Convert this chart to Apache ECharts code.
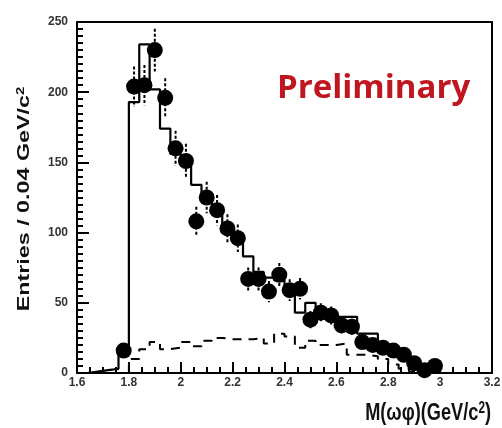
<!DOCTYPE html>
<html>
<head>
<meta charset="utf-8">
<script src="https://cdn.jsdelivr.net/npm/echarts@6/dist/echarts.min.js"></script>
<style>
  html, body { margin: 0; padding: 0; background: #fff; }
  #chart { width: 502px; height: 428px; }
</style>
</head>
<body>
<div id="chart"></div>
<script>
// Measured events: bin centres (GeV/c^2), entries per 0.04 GeV/c^2 and their errors
const dataMass = [1.78, 1.82, 1.86, 1.90, 1.94, 1.98, 2.02, 2.06, 2.10, 2.14, 2.18, 2.22,
  2.26, 2.30, 2.34, 2.38, 2.42, 2.46, 2.50, 2.54, 2.58, 2.62, 2.66, 2.70, 2.74, 2.78,
  2.82, 2.86, 2.90, 2.94, 2.98];
const dataCounts = [16, 204, 205, 230, 196, 160, 151, 108, 125, 116, 103, 96,
  67, 67, 58, 70, 59, 60, 38, 43, 41, 34, 33, 22, 20, 18,
  16, 13, 7, 2, 5];
const dataErrors = [4.0, 14.3, 14.3, 15.2, 14.0, 12.6, 12.3, 10.4, 11.2, 10.8, 10.1, 9.8,
  8.2, 8.2, 7.6, 8.4, 7.7, 7.7, 6.2, 6.6, 6.4, 5.8, 5.7, 4.7, 4.5, 4.2,
  4.0, 3.6, 2.6, 1.4, 2.2];

// Total fit histogram: lower bin edges and contents
const fitEdges = [1.64, 1.68, 1.72, 1.76, 1.80, 1.84, 1.88, 1.92, 1.96, 2.00, 2.04, 2.08,
  2.12, 2.16, 2.20, 2.24, 2.28, 2.32, 2.36, 2.40, 2.44, 2.48, 2.52, 2.56, 2.60, 2.64,
  2.68, 2.72, 2.76, 2.80, 2.84, 2.88, 2.92, 2.96, 3.00, 3.04];
const fitValues = [1, 2, 3, 14, 193, 234, 202, 174, 156, 150, 134, 124,
  116, 106, 95, 83, 72, 68, 66, 62, 43, 50, 45, 42, 40, 40,
  28, 28, 21, 18, 14, 9, 4, 2, 0];

// Background histogram: lower bin edges and contents
const bkgEdges = [1.80, 1.84, 1.88, 1.92, 1.96, 2.00, 2.04, 2.08, 2.12, 2.16, 2.20, 2.24,
  2.28, 2.32, 2.36, 2.40, 2.44, 2.48, 2.52, 2.56, 2.60, 2.64, 2.68, 2.72, 2.76, 2.80,
  2.84, 2.88, 2.92];
const bkgValues = [10, 17, 22, 17, 18, 22, 19, 23, 25, 24, 24, 24,
  25, 21, 28, 26, 18, 23, 20, 20, 21, 13, 13, 12, 10, 6,
  3, 1, 0];

// Axis ranges with major and minor tick steps
const xTicks = { min: 1.6, max: 3.2, step: 0.2, minorStep: 0.05 };
const yTicks = { min: 0, max: 250, step: 50, minorStep: 5 };

// Build step-line points: start at zero on the first edge, one point per bin edge
function stepPoints(edges, values) {
  const pts = [[edges[0], 0]];
  for (let i = 0; i < edges.length; i++) {
    pts.push([edges[i], values[Math.min(i, values.length - 1)]]);
  }
  return pts;
}

const points = dataMass.map((m, i) => [m, dataCounts[i]]);
const errorBars = dataMass.map((m, i) => [m, dataCounts[i], dataErrors[i]]);

const labelFont = { fontFamily: 'Liberation Sans', fontWeight: 'bold', fontSize: 12, color: '#333' };
const titleFont = { fontFamily: 'Liberation Sans', fontWeight: 'bold', fontSize: 17, fill: '#111' };
const supFont = { fontFamily: 'Liberation Sans', fontWeight: 'bold', fontSize: 11, fill: '#111', verticalAlign: 'top' };

const frameLine = { show: true, onZero: false, lineStyle: { color: '#000', width: 2 } };
const hidden = { show: false };

// Frame sides without ticks or labels (top and right)
function frameAxis(position, t) {
  return {
    type: 'value', position: position, min: t.min, max: t.max,
    axisLine: frameLine, axisTick: hidden, axisLabel: hidden, splitLine: hidden
  };
}

// Tick-only axis shifted into the plot by its tick length, so its ticks point inward
function tickAxis(position, t, interval, len) {
  return {
    type: 'value', position: position, offset: -len,
    min: t.min, max: t.max, interval: interval,
    axisLine: { show: false, onZero: false },
    axisTick: { show: true, inside: false, length: len, lineStyle: { color: '#000', width: 2 } },
    axisLabel: hidden, splitLine: hidden
  };
}

const chart = echarts.init(document.getElementById('chart'), null, { renderer: 'canvas' });
chart.setOption({
  animation: false,
  backgroundColor: '#fff',
  grid: {
    left: 77, right: 10, top: 22, bottom: 55,
    show: false,
    outerBoundsMode: 'none'
  },
  xAxis: [
    {
      type: 'value',
      position: 'bottom',
      min: xTicks.min, max: xTicks.max, interval: xTicks.step,
      axisLine: frameLine,
      axisTick: hidden,
      splitLine: hidden,
      axisLabel: Object.assign({ margin: 4 }, labelFont)
    },
    frameAxis('top', xTicks),
    tickAxis('bottom', xTicks, xTicks.step, 11),
    tickAxis('bottom', xTicks, xTicks.minorStep, 6)
  ],
  yAxis: [
    {
      type: 'value',
      position: 'left',
      min: yTicks.min, max: yTicks.max, interval: yTicks.step,
      axisLine: frameLine,
      axisTick: hidden,
      splitLine: hidden,
      axisLabel: Object.assign({ margin: 9 }, labelFont)
    },
    frameAxis('right', yTicks),
    tickAxis('left', yTicks, yTicks.step, 12),
    tickAxis('left', yTicks, yTicks.minorStep, 6)
  ],
  graphic: [
    {
      // y-axis title, rotated and stretched along the axis
      type: 'text',
      x: 24, y: 199,
      rotation: Math.PI / 2,
      scaleX: 1.37, scaleY: 1,
      style: {
        text: '{t|Entries / 0.04 GeV/c}{s|2}',
        align: 'center', verticalAlign: 'middle',
        rich: { t: titleFont, s: supFont }
      }
    },
    {
      // x-axis title, right aligned under the axis end
      type: 'text',
      x: 491, y: 413,
      scaleX: 1.07, scaleY: 1.45,
      style: {
        text: '{t|M(ωφ)(GeV/c}{s|2}{t|)}',
        align: 'right', verticalAlign: 'middle',
        rich: { t: titleFont, s: supFont }
      }
    },
    {
      type: 'text',
      left: 277, top: 72,
      style: {
        text: 'Preliminary',
        fontFamily: 'Open Sans', fontWeight: 'bold', fontSize: 33,
        fill: '#c0161f'
      }
    }
  ],
  series: [
    {
      name: 'background',
      type: 'line',
      step: 'end',
      data: stepPoints(bkgEdges, bkgValues),
      showSymbol: false,
      lineStyle: { color: '#000', width: 2, type: [9, 7] },
      z: 4
    },
    {
      name: 'fit',
      type: 'line',
      step: 'end',
      data: stepPoints(fitEdges, fitValues),
      showSymbol: false,
      lineStyle: { color: '#000', width: 2.2 },
      z: 5
    },
    {
      name: 'errors',
      type: 'custom',
      data: errorBars,
      renderItem: function (params, api) {
        const x = api.value(0), y = api.value(1), e = api.value(2);
        const top = api.coord([x, y + e]);
        const bot = api.coord([x, y - e]);
        return {
          type: 'line',
          shape: { x1: top[0], y1: top[1], x2: bot[0], y2: bot[1] },
          style: { stroke: '#000', lineWidth: 2, lineDash: [3, 2] }
        };
      },
      z: 6
    },
    {
      name: 'data',
      type: 'scatter',
      data: points,
      symbol: 'circle',
      symbolSize: 16,
      itemStyle: { color: '#000', opacity: 1, borderWidth: 0 },
      z: 7
    }
  ]
});
</script>
</body>
</html>
